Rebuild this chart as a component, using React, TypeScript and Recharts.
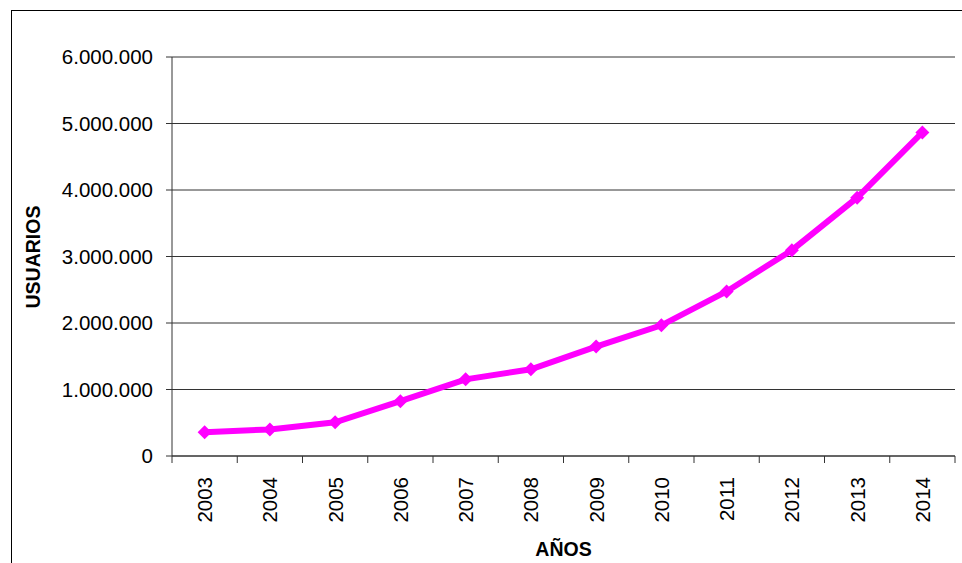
import { LineChart, Line, XAxis, YAxis, CartesianGrid, Label } from 'recharts';

const years = ['2003', '2004', '2005', '2006', '2007', '2008', '2009', '2010', '2011', '2012', '2013', '2014'];
const usuarios = [356000, 400000, 507000, 825000, 1153000, 1304000, 1645000, 1965000, 2475000, 3095000, 3885000, 4865000];
const yTicks = [0, 1000000, 2000000, 3000000, 4000000, 5000000, 6000000];
const boundaryTicks = [0, 1, 2, 3, 4, 5, 6, 7, 8, 9, 10, 11, 12];

const data = years.map((year, i) => ({ year, usuarios: usuarios[i] }));

const font = '"Liberation Sans", Arial, sans-serif';

const fmt = (v: number) => String(v).replace(/\B(?=(\d{3})+(?!\d))/g, '.');

const YearTick = (props: any) => {
    const { x, y, payload } = props;
    return (
        <text
            x={x}
            y={y}
            transform={`rotate(-90 ${x} ${y})`}
            textAnchor="end"
            dominantBaseline="central"
            fontSize={20.5}
            fontFamily={font}
            fill="#000"
        >
            {payload.value}
        </text>
    );
};

const EmptyTick = () => <g />;

const Diamond = (props: any) => {
    const { cx, cy, index } = props;
    if (cx == null || cy == null) return null;
    const r = 7;
    return (
        <path
            key={`d-${index}`}
            d={`M${cx},${cy - r} L${cx + r},${cy} L${cx},${cy + r} L${cx - r},${cy} Z`}
            fill="#FF00FF"
            stroke="none"
        />
    );
};

const App = () => {
    return (
        <div style={{ position: 'absolute', left: 0, top: 0, width: 962, height: 563, background: '#fff', overflow: 'hidden' }}>
            <div
                style={{
                    position: 'absolute',
                    left: 11,
                    top: 10,
                    width: 1000,
                    height: 600,
                    borderLeft: '1px solid #000',
                    borderTop: '1px solid #000',
                }}
            />
            <LineChart
                width={962}
                height={563}
                data={data}
                margin={{ top: 57, right: 7, left: 0, bottom: 0 }}
                style={{ position: 'absolute', left: 0, top: 0, fontFamily: font }}
            >
                <CartesianGrid vertical={false} stroke="#333" strokeWidth={1} />
                <XAxis
                    xAxisId="years"
                    dataKey="year"
                    type="category"
                    scale="band"
                    tick={<YearTick />}
                    tickLine={false}
                    axisLine={false}
                    tickSize={0}
                    tickMargin={20}
                    interval={0}
                    height={106}
                >
                    <Label
                        content={() => (
                            <text x={563.5} y={556} textAnchor="middle" fontSize={19.5} fontWeight="bold" fontFamily={font} fill="#000">
                                AÑOS
                            </text>
                        )}
                    />
                </XAxis>
                <XAxis
                    xAxisId="aTicks"
                    dataKey={() => 0}
                    type="number"
                    scale="linear"
                    domain={[0, years.length]}
                    ticks={boundaryTicks}
                    tick={<EmptyTick />}
                    tickLine={{ stroke: '#333' }}
                    tickSize={7}
                    axisLine={{ stroke: '#333' }}
                    height={1}
                    interval={0}
                    allowDataOverflow
                />
                <YAxis
                    width={172}
                    domain={[0, 6000000]}
                    ticks={yTicks}
                    tickFormatter={fmt}
                    tick={{ fill: '#000', fontSize: 20.5, fontFamily: font }}
                    tickLine={{ stroke: '#333' }}
                    tickSize={6}
                    tickMargin={13}
                    axisLine={{ stroke: '#333' }}
                    interval={0}
                >
                    <Label
                        content={() => (
                            <text
                                x={40}
                                y={257}
                                transform="rotate(-90 40 257)"
                                textAnchor="middle"
                                fontSize={19.5}
                                fontWeight="bold"
                                fontFamily={font}
                                fill="#000"
                            >
                                USUARIOS
                            </text>
                        )}
                    />
                </YAxis>
                <Line
                    xAxisId="years"
                    type="linear"
                    dataKey="usuarios"
                    stroke="#FF00FF"
                    strokeWidth={6}
                    dot={<Diamond />}
                    activeDot={false}
                    isAnimationActive={false}
                />
            </LineChart>
        </div>
    );
};

export default App;
